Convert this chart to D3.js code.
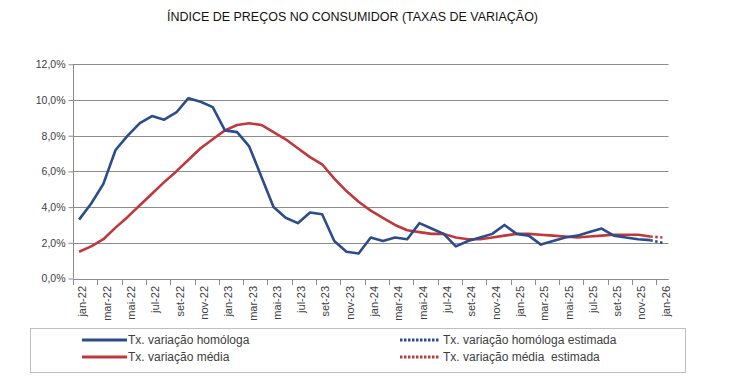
<!DOCTYPE html>
<html>
<head>
<meta charset="utf-8">
<script src="https://cdn.jsdelivr.net/npm/d3@7"></script>
<style>
  html, body { margin: 0; padding: 0; background: #ffffff; }
  svg { display: block; }
  text { font-family: "Liberation Sans", Arial, sans-serif; fill: #404040; }
</style>
</head>
<body>
<svg id="chart" width="733" height="381"></svg>
<script>
const title = "ÍNDICE DE PREÇOS NO CONSUMIDOR (TAXAS DE VARIAÇÃO)";

const categories = [
  "jan-22","fev-22","mar-22","abr-22","mai-22","jun-22","jul-22","ago-22","set-22","out-22","nov-22","dez-22",
  "jan-23","fev-23","mar-23","abr-23","mai-23","jun-23","jul-23","ago-23","set-23","out-23","nov-23","dez-23",
  "jan-24","fev-24","mar-24","abr-24","mai-24","jun-24","jul-24","ago-24","set-24","out-24","nov-24","dez-24",
  "jan-25","fev-25","mar-25","abr-25","mai-25","jun-25","jul-25","ago-25","set-25","out-25","nov-25","dez-25",
  "jan-26"
];

// Tx. variação homóloga (jan-22 .. dez-25)
const homologa = [
  3.3, 4.2, 5.3, 7.2, 8.0, 8.7, 9.1, 8.9, 9.3, 10.1, 9.9, 9.6,
  8.3, 8.2, 7.4, 5.7, 4.0, 3.4, 3.1, 3.7, 3.6, 2.1, 1.5, 1.4,
  2.3, 2.1, 2.3, 2.2, 3.1, 2.8, 2.5, 1.8, 2.1, 2.3, 2.5, 3.0,
  2.5, 2.4, 1.9, 2.1, 2.3, 2.4, 2.6, 2.8, 2.4, 2.3, 2.2, 2.15
];
// Tx. variação homóloga estimada (dez-25 .. jan-26)
const homologaEstCats = ["dez-25", "jan-26"];
const homologaEst = [2.15, 2.0];

// Tx. variação média (jan-22 .. dez-25)
const media = [
  1.5, 1.8, 2.2, 2.85, 3.45, 4.1, 4.75, 5.4, 6.0, 6.65, 7.3, 7.8,
  8.3, 8.6, 8.7, 8.6, 8.2, 7.8, 7.3, 6.8, 6.4, 5.6, 4.9, 4.3,
  3.8, 3.4, 3.0, 2.7, 2.6, 2.5, 2.5, 2.3, 2.2, 2.2, 2.3, 2.4,
  2.5, 2.5, 2.45, 2.4, 2.35, 2.3, 2.35, 2.4, 2.45, 2.45, 2.45, 2.35
];
// Tx. variação média estimada (dez-25 .. jan-26)
const mediaEstCats = ["dez-25", "jan-26"];
const mediaEst = [2.35, 2.3];

const yTicks = [0, 2, 4, 6, 8, 10, 12];
const xTickLabels = categories.filter((d, i) => i % 2 === 0);

const legendLabels = [
  "Tx. variação homóloga",
  "Tx. variação homóloga estimada",
  "Tx. variação média",
  "Tx. variação média  estimada"
];

const BLUE = "#2C4C8A", RED = "#C0383C";

const legendItems = [
  { label: legendLabels[0], color: BLUE, dashed: false, col: 0, row: 0 },
  { label: legendLabels[1], color: BLUE, dashed: true, col: 1, row: 0 },
  { label: legendLabels[2], color: RED, dashed: false, col: 0, row: 1 },
  { label: legendLabels[3], color: RED, dashed: true, col: 1, row: 1 }
];

const svg = d3.select("#chart");
const plot = { left: 73, right: 668.5, top: 64.3, bottom: 278.5 };

const x = d3.scaleBand().domain(categories).range([plot.left, plot.right]).padding(0);
const bw = x.bandwidth();
const cx = d => x(d) + bw / 2;
const y = d3.scaleLinear().domain([0, 12]).range([plot.bottom, plot.top]);

const locale = d3.formatLocale({ decimal: ",", thousands: ".", grouping: [3], currency: ["", "€"] });
const fmt = locale.format(".1f");

// Title
svg.append("text")
  .attr("x", 167).attr("y", 21)
  .attr("textLength", 371).attr("lengthAdjust", "spacingAndGlyphs")
  .style("font-size", "12.5px").style("fill", "#111")
  .text(title);

// Gridlines
svg.append("g").selectAll("line").data(yTicks).join("line")
  .attr("x1", plot.left).attr("x2", plot.right)
  .attr("y1", d => Math.round(y(d)) + 0.5).attr("y2", d => Math.round(y(d)) + 0.5)
  .attr("stroke", "#8c8c8c").attr("stroke-width", 1);

// Y axis
const yAxis = d3.axisLeft(y).tickValues(yTicks).tickSize(5).tickPadding(3)
  .tickFormat(d => fmt(d) + "%");
const gy = svg.append("g").attr("transform", `translate(${plot.left + 0.5},0)`).call(yAxis);
gy.select(".domain").attr("stroke", "#8c8c8c").attr("d", `M0,${plot.top}V${plot.bottom}`);
gy.selectAll(".tick line").attr("stroke", "#8c8c8c");
gy.selectAll(".tick text").style("font-size", "10.5px").style("fill", "#404040")
  .style("font-family", "'Liberation Sans', Arial, sans-serif");

// X axis line
svg.append("line")
  .attr("x1", plot.left).attr("x2", plot.right)
  .attr("y1", Math.round(plot.bottom) + 0.5).attr("y2", Math.round(plot.bottom) + 0.5)
  .attr("stroke", "#8c8c8c");

// X ticks at band starts every 2 categories
svg.append("g").selectAll("line").data(xTickLabels).join("line")
  .attr("x1", d => Math.round(x(d)) + 0.5).attr("x2", d => Math.round(x(d)) + 0.5)
  .attr("y1", Math.round(plot.bottom)).attr("y2", Math.round(plot.bottom) + 6)
  .attr("stroke", "#8c8c8c");

// X labels rotated
svg.append("g").selectAll("text").data(xTickLabels).join("text")
  .attr("transform", d => `translate(${cx(d) + 3.5},286) rotate(-90)`)
  .attr("text-anchor", "end")
  .attr("dy", "0.35em")
  .style("font-size", "11px")
  .text(d => d);

// Lines
const line = d3.line().x(d => cx(d[0])).y(d => y(d[1]));

function drawSeries(cats, vals, color, dashed) {
  svg.append("path")
    .datum(cats.map((c, i) => [c, vals[i]]))
    .attr("d", line)
    .attr("fill", "none")
    .attr("stroke", color)
    .attr("stroke-width", 2.6)
    .attr("stroke-linejoin", "round")
    .attr("stroke-dasharray", dashed ? "2.5,2.5" : null);
}

drawSeries(categories.slice(0, media.length), media, RED, false);
drawSeries(categories.slice(0, homologa.length), homologa, BLUE, false);
drawSeries(mediaEstCats, mediaEst, RED, true);
drawSeries(homologaEstCats, homologaEst, BLUE, true);

// Legend
const lg = svg.append("g");
lg.append("rect").attr("x", 30.5).attr("y", 328.5).attr("width", 655).attr("height", 44)
  .attr("fill", "#fff").attr("stroke", "#bfbfbf");
const colX = [82, 400];
const rowY = [340, 357];
legendItems.forEach(it => {
  const x0 = colX[it.col], y0 = rowY[it.row];
  lg.append("line").attr("x1", x0).attr("x2", x0 + (it.dashed ? 40 : 45)).attr("y1", y0).attr("y2", y0)
    .attr("stroke", it.color).attr("stroke-width", 3)
    .attr("stroke-dasharray", it.dashed ? "2.5,1.5" : null);
  lg.append("text").attr("x", x0 + (it.dashed ? 43 : 46)).attr("y", y0).attr("dy", "0.35em")
    .attr("xml:space", "preserve")
    .style("white-space", "pre")
    .style("font-size", "12px").style("fill", "#404040").text(it.label);
});
</script>
</body>
</html>
